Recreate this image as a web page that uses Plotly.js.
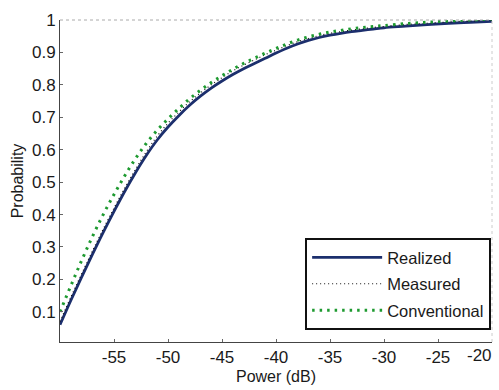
<!DOCTYPE html>
<html>
<head>
<meta charset="utf-8">
<script src="https://cdn.plot.ly/plotly-3.0.1.min.js"></script>
<style>html,body{margin:0;padding:0;background:#fff}#chart{width:499px;height:390px}</style>
</head>
<body>
<div id="chart"></div>
<script>
const power = [-60,-59,-58,-57,-56,-55,-54,-53,-52,-51,-50,-49,-48,-47,-46,-45,-44,-43,-42,-41,-40,-39,-38,-37,-36,-35,-34,-33,-32,-31,-30,-28,-26,-24,-22,-20];
const realized = [0.06,0.135,0.207,0.277,0.345,0.41,0.472,0.53,0.583,0.63,0.67,0.705,0.737,0.765,0.79,0.812,0.832,0.85,0.866,0.882,0.898,0.913,0.926,0.937,0.946,0.953,0.959,0.964,0.968,0.972,0.976,0.981,0.986,0.99,0.993,0.996];
const measured = [0.07,0.145,0.217,0.287,0.355,0.42,0.482,0.54,0.594,0.642,0.682,0.716,0.748,0.775,0.80,0.822,0.843,0.861,0.877,0.893,0.907,0.921,0.933,0.943,0.952,0.959,0.964,0.969,0.973,0.977,0.98,0.986,0.99,0.994,0.997,1.0];
const conventional = [0.10,0.18,0.258,0.332,0.40,0.462,0.52,0.573,0.62,0.66,0.695,0.727,0.757,0.783,0.807,0.828,0.848,0.866,0.882,0.898,0.912,0.926,0.938,0.948,0.956,0.963,0.968,0.973,0.977,0.98,0.983,0.989,0.993,0.997,1.0,1.003];
const xTicks = [-55,-50,-45,-40,-35,-30,-25,-20];
const xTickText = ['-55','-50','-45','-40','-35','-30','-25',''];
const lastXLabel = '-20';
const yTicks = [0.1,0.2,0.3,0.4,0.5,0.6,0.7,0.8,0.9,1];
const yTickText = ['0.1','0.2','0.3','0.4','0.5','0.6','0.7','0.8','0.9','1'];

const fam = 'Liberation Sans, Arial, sans-serif';
const txt = '#1a1a1a';
const traces = [
  {x: power, y: realized, name: 'Realized', legendgroup: 'a', mode: 'lines', line: {color: '#1c2f6d', width: 2.8, shape: 'spline'}},
  {x: power, y: measured, name: 'Measured', legendgroup: 'b', mode: 'lines', line: {color: '#111', width: 1.2, dash: '1px,3px', shape: 'spline'}},
  {x: power, y: conventional, name: 'Conventional', legendgroup: 'c', mode: 'lines', line: {color: '#1e9a30', width: 3, dash: '2.5px,5px', shape: 'spline'}}
];
const layout = {
  width: 499, height: 390,
  margin: {l: 60, r: 7, t: 20, b: 48},
  paper_bgcolor: '#fff', plot_bgcolor: '#fff',
  font: {family: fam, size: 16, color: txt},
  showlegend: true,
  legend: {x: 0.998, y: 0.037, xanchor: 'right', yanchor: 'bottom', bgcolor: '#fff', bordercolor: '#111', borderwidth: 2, itemwidth: 70, font: {family: fam, size: 16.5, color: txt}, tracegroupgap: 2},
  xaxis: {
    range: [-60, -20], tickvals: xTicks, ticktext: xTickText, ticks: 'inside', ticklen: 3, tickcolor: '#666',
    showgrid: false, zeroline: false, showline: true, linecolor: '#444', linewidth: 1,
    tickfont: {family: fam, size: 17, color: txt},
    title: {text: 'Power (dB)', font: {family: fam, size: 16, color: txt}, standoff: 4}
  },
  yaxis: {
    range: [0.007, 1.0], tickvals: yTicks, ticktext: yTickText, ticks: 'inside', ticklen: 3, tickcolor: '#666',
    showgrid: false, zeroline: false, showline: true, linecolor: '#444', linewidth: 1,
    tickfont: {family: fam, size: 17, color: txt},
    title: {text: 'Probability', font: {family: fam, size: 16, color: txt}, standoff: 4}
  },
  annotations: [
    {text: lastXLabel, xref: 'x', yref: 'paper', x: -20, y: 0, xanchor: 'right', yanchor: 'top', yshift: -2, xshift: 2, showarrow: false, font: {family: fam, size: 17, color: txt}}
  ],
  shapes: [
    {type: 'line', xref: 'paper', yref: 'paper', x0: 0, x1: 1, y0: 1, y1: 1, line: {color: '#aaa', width: 1, dash: 'dot'}},
    {type: 'line', xref: 'paper', yref: 'paper', x0: 1, x1: 1, y0: 0, y1: 1, line: {color: '#ccc', width: 1, dash: 'dot'}}
  ]
};
Plotly.newPlot('chart', traces, layout, {staticPlot: true, displayModeBar: false});
</script>
</body>
</html>
